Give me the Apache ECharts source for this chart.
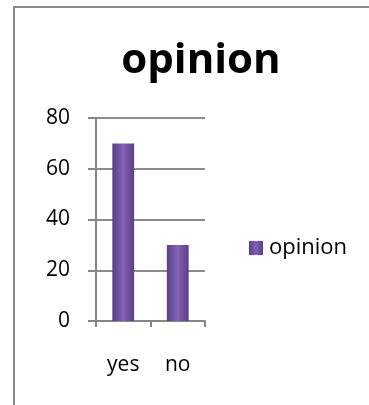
<!DOCTYPE html>
<html><head><meta charset="utf-8">
<script src="https://cdn.jsdelivr.net/npm/echarts@6/dist/echarts.min.js"></script>
<style>html,body{margin:0;padding:0;background:#fff}#c{width:369px;height:405px}</style>
</head><body><div id="c"></div>
<script>
var categories = ['yes', 'no'];
var opinionValues = [70, 30];
var yTicks = [0, 20, 40, 60, 80];
var seriesName = 'opinion';

var chart = echarts.init(document.getElementById('c'), null, {renderer: 'canvas'});
var barGrad = new echarts.graphic.LinearGradient(0, 0, 1, 0, [
  {offset: 0, color: '#5b3e86'},
  {offset: 0.5, color: '#8463b4'},
  {offset: 1, color: '#5b3e86'}
]);
var font = '"Open Sans", sans-serif';
chart.setOption({
  animation: false,
  graphic: [{
    type: 'rect', shape: {x: 14, y: 7, width: 420, height: 460},
    style: {fill: 'none', stroke: '#8c8c8c', lineWidth: 2}, silent: true, z: -1
  }],
  title: {
    text: seriesName, left: 196, top: 35, textAlign: 'center',
    textStyle: {fontFamily: font, fontWeight: 'bold', fontSize: 42, color: '#000'}
  },
  legend: {
    data: [seriesName], left: 244, top: 232, orient: 'vertical',
    itemWidth: 14, itemHeight: 14, itemGap: 5, icon: 'rect',
    textStyle: {fontFamily: font, fontSize: 22, color: '#000', padding: [0, 0, 0, 1]}
  },
  grid: {left: 96, right: 164, top: 118, bottom: 84, containLabel: false},
  xAxis: {
    type: 'category', data: categories,
    axisLine: {lineStyle: {color: '#868686', width: 2}},
    axisTick: {show: true, length: 6, lineStyle: {color: '#868686', width: 2}},
    axisLabel: {fontFamily: font, fontSize: 21, color: '#000', margin: 34}
  },
  yAxis: {
    type: 'value', min: yTicks[0], max: yTicks[yTicks.length - 1], interval: 20,
    axisLine: {show: true, lineStyle: {color: '#868686', width: 2}},
    axisTick: {show: true, length: 8, lineStyle: {color: '#868686', width: 2}},
    splitLine: {lineStyle: {color: '#8c8c8c', width: 2}},
    axisLabel: {fontFamily: font, fontSize: 21, color: '#000', margin: 26}
  },
  series: [{
    name: seriesName, type: 'bar', data: opinionValues, barWidth: '40%',
    itemStyle: {color: barGrad}
  }]
});
</script></body></html>
